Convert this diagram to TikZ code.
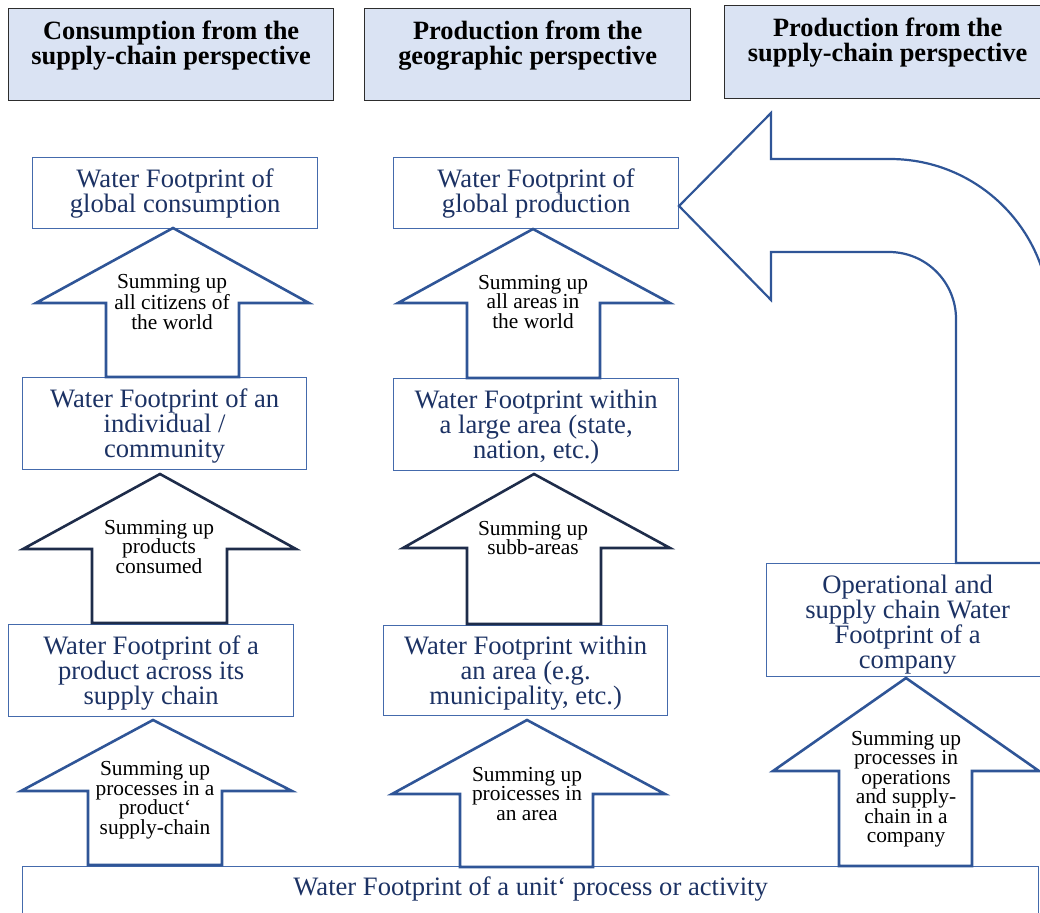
\documentclass[tikz,border=0pt]{standalone}
\usepackage{fontspec}
\setmainfont{Liberation Serif}
\definecolor{boxblue}{RGB}{68,106,172}
\definecolor{boxtext}{RGB}{28,50,100}
\definecolor{arrblue}{RGB}{47,85,151}
\definecolor{arrdark}{RGB}{30,44,74}
\definecolor{hdrfill}{RGB}{218,227,243}
\definecolor{hdrline}{RGB}{45,45,45}
\begin{document}
\begin{tikzpicture}[x=1pt,y=-1pt,
  wfbox/.style={draw=boxblue, line width=1.3pt, fill=white, text=boxtext,
    font=\fontsize{26.6}{25}\selectfont, align=center, inner sep=0pt,
    anchor=north west},
  hdr/.style={draw=hdrline, fill=hdrfill, line width=1.3pt, text=black,
    font=\fontsize{26.4}{25}\selectfont\bfseries, align=center, inner sep=0pt,
    anchor=north west, text height=56pt},
  blockarr/.style={draw=arrblue, line width=2.6pt, fill=white, line join=miter},
  darkarr/.style={blockarr, draw=arrdark},
  bentarr/.style={draw=arrblue, line width=2.2pt, fill=white, line join=miter},
  lbl/.style={font=\fontsize{21.4}{19.5}\selectfont, align=center, inner sep=0pt, text=black}
]
\useasboundingbox (0,0) rectangle (1040,912);
\clip (0,0) rectangle (1040,912);

% headers
\node[hdr, minimum width=325pt, text depth=36pt] (h1) at (8,8)
  {Consumption from the\\supply-chain perspective};
\node[hdr, minimum width=326pt, text depth=36pt] (h2) at (364,8)
  {Production from the\\geographic perspective};
\node[hdr, minimum width=326pt, text depth=37pt] (h3) at (724,5)
  {Production from the\\supply-chain perspective};

% column 1 boxes
\node[wfbox, minimum width=285pt, text height=55pt, text depth=16pt] (b1) at (32,157)
  {Water Footprint of\\global consumption};
\node[wfbox, minimum width=284pt, text height=80pt, text depth=12pt] (b2) at (22,377)
  {Water Footprint of an\\individual /\\community};
\node[wfbox, minimum width=285pt, text height=80pt, text depth=12pt] (b3) at (8,624)
  {Water Footprint of a\\product across its\\supply chain};

% column 2 boxes
\node[wfbox, minimum width=285pt, text height=55pt, text depth=16pt] (c1) at (393,157)
  {Water Footprint of\\global production};
\node[wfbox, minimum width=285pt, text height=80pt, text depth=12pt] (c2) at (393,378)
  {Water Footprint within\\a large area (state,\\nation, etc.)};
\node[wfbox, minimum width=284pt, text height=79pt, text depth=11pt] (c3) at (383,625)
  {Water Footprint within\\an area (e.g.\\municipality, etc.)};

% column 3 box
\node[wfbox, minimum width=282pt, text height=105pt, text depth=8pt] (d1) at (766,563)
  {Operational and\\supply chain Water\\Footprint of a\\company};

% bottom box
\node[wfbox, minimum width=1016pt, text height=29pt, text depth=61pt] (unit) at (22,866)
  {Water Footprint of a unit‘ process or activity};

% block arrows, column 1
\draw[blockarr] (173,228) -- (309,303) -- (239,303) -- (239,377) -- (106,377) -- (106,303) -- (36,303) -- cycle;
\node[lbl] (l1) at (172,302) {Summing up\\all citizens of\\the world};
\draw[darkarr] (160,474) -- (296,549) -- (227,549) -- (227,623) -- (92,623) -- (92,549) -- (23,549) -- cycle;
\node[lbl] (l2) at (159,547) {Summing up\\products\\consumed};
\draw[blockarr] (153,720) -- (292,791) -- (222,791) -- (222,865) -- (88,865) -- (88,791) -- (21,791) -- cycle;
\node[lbl] (l3) at (155,800) {Summing up\\processes in a\\product‘\\supply-chain};

% block arrows, column 2
\draw[blockarr] (533,229) -- (670,303) -- (600,303) -- (600,378) -- (467,378) -- (467,303) -- (398,303) -- cycle;
\node[lbl] (m1) at (533,302) {Summing up\\all areas in\\the world};
\draw[darkarr] (534,474) -- (670,548) -- (601,548) -- (601,624) -- (467,624) -- (467,548) -- (403,548) -- cycle;
\node[lbl] (m2) at (533,538) {Summing up\\subb-areas};
\draw[blockarr] (527,720) -- (665,794) -- (593,794) -- (593,867) -- (460,867) -- (460,794) -- (392,794) -- cycle;
\node[lbl] (m3) at (527,794) {Summing up\\proicesses in\\an area};

% block arrow, column 3
\draw[blockarr] (906,678) -- (1039,771) -- (972,771) -- (972,866) -- (839,866) -- (839,771) -- (773,771) -- cycle;
\node[lbl] (r1) at (906,789) {Summing up\\processes in\\operations\\and supply-\\chain in a\\company};

% bent arrow from company box to global production
\coordinate (btip) at (679,206);
\draw[bentarr] (btip) -- (771,113) -- (771,159) -- (890,159)
  arc[start angle=90, end angle=0, radius=160pt] -- (1050,563) -- (956,563) -- (956,319)
  arc[start angle=0, end angle=90, radius=67pt] -- (771,252) -- (771,300) -- cycle;
\end{tikzpicture}
\end{document}
